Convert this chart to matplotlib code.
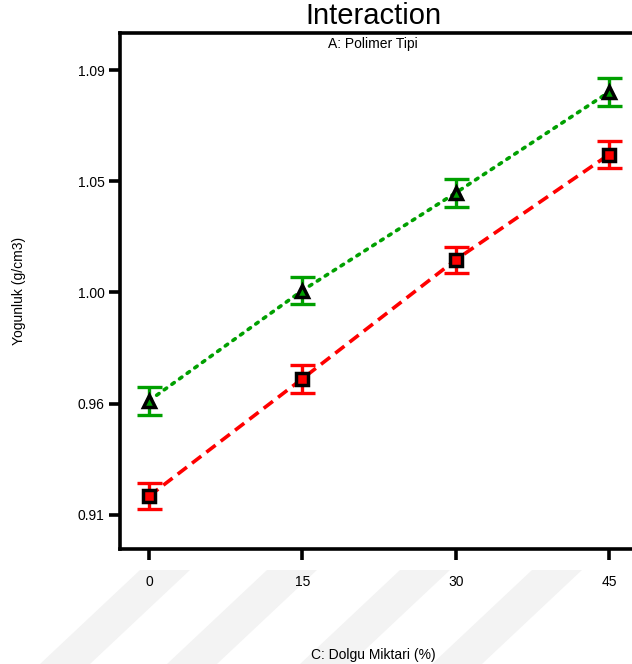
import matplotlib.pyplot as plt
from matplotlib.patches import Polygon

plt.rcParams['font.family'] = ['Liberation Sans', 'DejaVu Sans']

# Dolgu miktari (%)
dolgu = [0, 15, 30, 45]
# Yogunluk degerleri (g/cm3)
yog_yesil = [0.9562, 1.0008, 1.0403, 1.0811]
yog_kirmizi = [0.9176, 0.9651, 1.0132, 1.0558]
hata_yesil = [0.0057, 0.0056, 0.0056, 0.0055]
hata_kirmizi = [0.0054, 0.0056, 0.0054, 0.0055]
y_ticks = [0.91, 0.955, 1.0, 1.045, 1.09]
y_tick_labels = ["0.91", "0.96", "1.00", "1.05", "1.09"]

fig = plt.figure(figsize=(6.32, 6.64), dpi=100)

# filigran seritleri (arka plan)
for x0 in [140, 267, 400, 532]:
    pts = [(x0, 94), (x0 + 50, 94), (x0 + 50 - 100, 0), (x0 - 100, 0)]
    pts = [(px / 632, py / 664) for px, py in pts]
    fig.patches.append(Polygon(pts, closed=True, transform=fig.transFigure,
                               facecolor="#f3f3f3", edgecolor="none", zorder=0))

ax = fig.add_axes([120 / 632, 115 / 664, 1 - 120 / 632, 516 / 664])
ax.set_zorder(2)
ax.patch.set_alpha(0)

yesil = "#00a000"
kirmizi = "#ff0000"

ax.plot(dolgu, yog_yesil, color=yesil, linestyle=(0, (0.8, 1.8)), linewidth=2.6,
        dash_capstyle="round", zorder=2)
ax.plot(dolgu, yog_kirmizi, color=kirmizi, linestyle=(0, (3.2, 1.8)), linewidth=2.6,
        zorder=2)

ax.errorbar(dolgu, yog_yesil, yerr=hata_yesil, fmt="none", ecolor=yesil,
            elinewidth=2.4, capsize=9, capthick=2.4, zorder=3)
ax.errorbar(dolgu, yog_kirmizi, yerr=hata_kirmizi, fmt="none", ecolor=kirmizi,
            elinewidth=2.4, capsize=9, capthick=2.4, zorder=3)

ax.plot(dolgu, yog_yesil, linestyle="none", marker="^", markersize=9,
        markerfacecolor=yesil, markeredgecolor="black", markeredgewidth=2.5, zorder=4)
ax.plot(dolgu, yog_kirmizi, linestyle="none", marker="s", markersize=8,
        markerfacecolor=kirmizi, markeredgecolor="black", markeredgewidth=2.5, zorder=4)

ax.set_xlim(-2.84, 47.25)
ax.set_ylim(0.8962, 1.105)
ax.set_xticks(dolgu)
ax.set_yticks(y_ticks)
ax.set_yticklabels(y_tick_labels)

for s in ["left", "bottom", "top"]:
    ax.spines[s].set_linewidth(2.6)
ax.spines["right"].set_visible(False)
ax.tick_params(axis="both", direction="out", length=8, width=2.6, labelsize=10)
ax.tick_params(axis="x", pad=11)
ax.tick_params(axis="y", pad=3)

ax.set_xlabel("C: Dolgu Miktari (%)", fontsize=10)
ax.xaxis.set_label_coords((373 - 120) / 512, -(648 - 549) / 516)
ax.set_ylabel("Yogunluk (g/cm3)", fontsize=10)
ax.yaxis.set_label_coords(-(120 - 26) / 512, 0.5)

fig.text(373 / 632, 1 - 16 / 664, "Interaction", fontsize=21, ha="center", va="center")
fig.text(373 / 632, 1 - 44 / 664, "A: Polimer Tipi", fontsize=10, ha="center", va="center")

fig.savefig("out.png", dpi=100)
